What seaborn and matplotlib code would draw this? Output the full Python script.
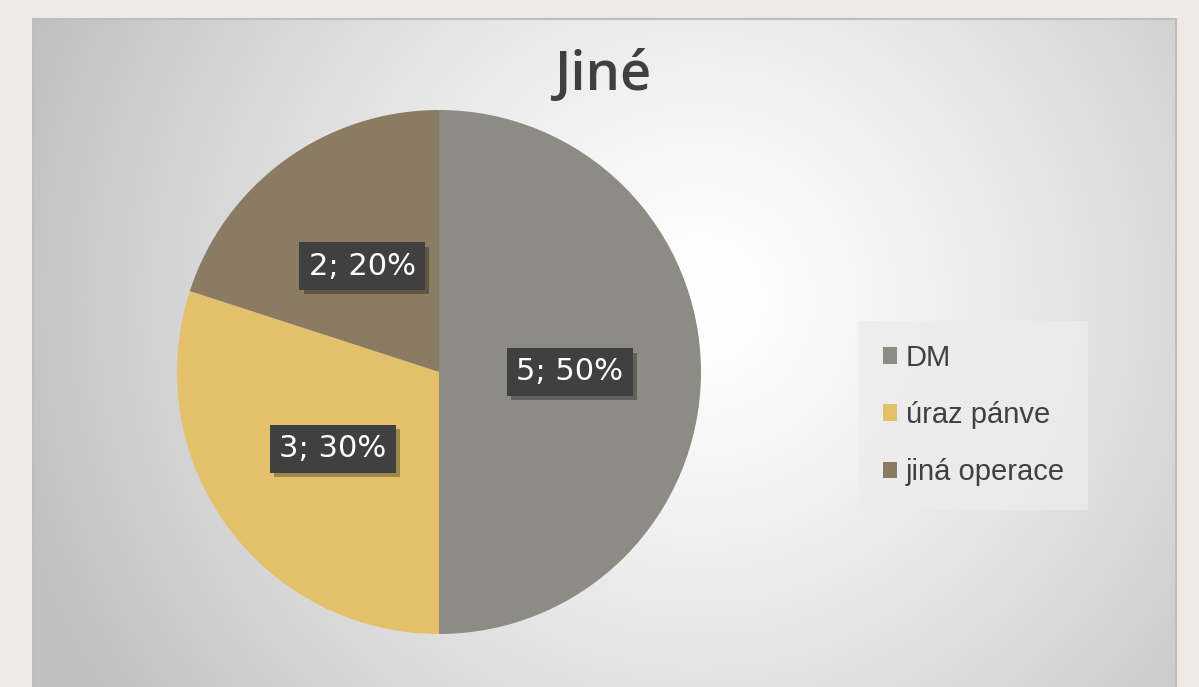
import numpy as np
import matplotlib
matplotlib.use("Agg")
import matplotlib.pyplot as plt
import matplotlib.patheffects as pe
from matplotlib.patches import Patch
import seaborn as sns

# data
categories = ["DM", "úraz pánve", "jiná operace"]
values = [5, 3, 2]
colors = ["#8c8c84", "#e4c06a", "#8b7b62"]
title = "Jiné"

sns.set_style("white")
plt.rcParams['font.family'] = ['Liberation Sans', 'DejaVu Sans']

W, H = 1199, 687
fig = plt.figure(figsize=(W / 100, H / 100), dpi=100, facecolor="#efebe4")

# chart area background with radial gradient
x0, x1, y0, y1 = 33, 1176, 19, 687
bg = fig.add_axes([x0 / W, 0, (x1 - x0) / W, 1 - y0 / H])
ny, nx = 300, 500
yy, xx = np.mgrid[0:ny, 0:nx]
px = x0 + xx / (nx - 1) * (x1 - x0)
py = y0 + yy / (ny - 1) * (y1 - y0)
cx, cy = 700, 300
d = np.sqrt((px - cx) ** 2 + (py - cy) ** 2) / 720
d = np.clip(d, 0, 1)
val = 1.0 - (1.0 - 0.75) * d ** 1.3
img = np.dstack([val, val, val])
bg.imshow(img, extent=[0, 1, 0, 1], aspect="auto", origin="upper")
bg.set_xlim(0, 1)
bg.set_ylim(0, 1)
bg.set_xticks([])
bg.set_yticks([])
for s in ["top", "left", "right"]:
    bg.spines[s].set_visible(True)
    bg.spines[s].set_color("#bdbdbd")
    bg.spines[s].set_linewidth(1.5)
bg.spines["bottom"].set_visible(False)

# pie
cxp, cyp, r = 439, 372, 262
ax = fig.add_axes([(cxp - r) / W, (H - cyp - r) / H, 2 * r / W, 2 * r / H])
total = sum(values)


def fmt(p):
    v = int(round(p * total / 100.0))
    return f"{v}; {p:.0f}%"


wedges, texts, autotexts = ax.pie(values, colors=colors, startangle=90, counterclock=False,
                                  autopct=fmt, pctdistance=0.5, radius=1.0,
                                  wedgeprops=dict(linewidth=0))
ax.set_xlim(-1, 1)
ax.set_ylim(-1, 1)
ax.set_aspect("auto")
ax.set_axis_off()

for t in autotexts:
    t.set_color("white")
    t.set_fontsize(22)
    t.set_family(["DejaVu Sans"])
    t.set_bbox(dict(boxstyle="square,pad=0.3", facecolor="#404040", edgecolor="none"))
    t.get_bbox_patch().set_path_effects([
        pe.SimplePatchShadow(offset=(3, -3), shadow_rgbFace="black", alpha=0.3),
        pe.Normal()])

# title
fig.text(603 / W, 1 - 76 / H, title, ha="center", va="center", fontsize=39,
         color="#404040", family=["Open Sans", "DejaVu Sans"], fontweight="semibold")

# legend
handles = [Patch(facecolor=c, edgecolor="none", label=l) for c, l in zip(colors, categories)]
leg = fig.legend(handles=handles, loc="center left", bbox_to_anchor=(868 / W, 1 - 415 / H),
                 frameon=True, fontsize=21, handlelength=0.5, handleheight=0.5,
                 handletextpad=0.3, labelspacing=1.0, borderpad=0.5, borderaxespad=0)
leg.get_frame().set_facecolor("#ececec")
leg.get_frame().set_alpha(0.8)
leg.get_frame().set_edgecolor("none")
leg.get_frame().set_boxstyle("square")
for t in leg.get_texts():
    t.set_color("#404040")

fig.savefig("out.png", dpi=100, facecolor=fig.get_facecolor())
